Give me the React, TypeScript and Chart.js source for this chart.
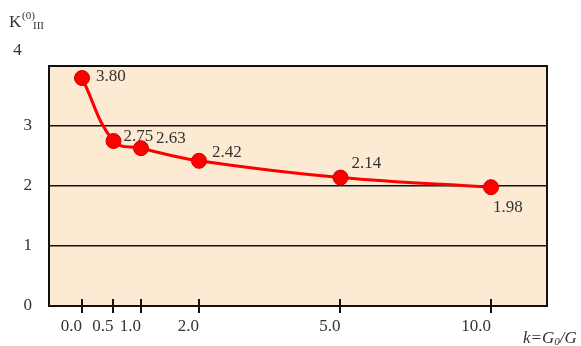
import { useEffect, useRef } from 'react';
import { Chart, registerables, LinearScale } from 'chart.js';

// Stiffness ratio k = G0/G and the coefficient K(0)_III at each ratio
const K_VALUES = [0, 0.5, 1, 2, 5, 10];
const COEFFICIENTS = [3.8, 2.75, 2.63, 2.42, 2.14, 1.98];
const Y_TICKS = [0, 1, 2, 3, 4];

// The k axis is stretched unevenly: each knot's place along the plot width
const AXIS_KNOTS = [0, 0.5, 1, 2, 5, 10];
const AXIS_FRACTIONS = [0.0663, 0.1295, 0.1847, 0.3012, 0.5853, 0.8876];

// Where each value label sits relative to its point
const LABEL_OFFSETS: [number, number][] = [
  [14, -1],
  [10, -4],
  [15, -10],
  [13, -8],
  [11, -14],
  [2, 20],
];

const SERIF = '"Liberation Serif", "Times New Roman", serif';
const TEXT = '#333333';
const PANEL = '#FCEBD2';

function interp(v: number, from: number[], to: number[]) {
  const n = from.length;
  let i = 0;
  while (i < n - 2 && v > from[i + 1]) i++;
  const a0 = from[i], a1 = from[i + 1];
  const b0 = to[i], b1 = to[i + 1];
  return b0 + ((v - a0) * (b1 - b0)) / (a1 - a0);
}

const warp = (k: number) => interp(k, AXIS_KNOTS, AXIS_FRACTIONS);
const unwarp = (f: number) => interp(f, AXIS_FRACTIONS, AXIS_KNOTS);

// Linear scale whose values are placed along the piecewise k mapping
class KnotScale extends LinearScale {
  static id = 'knots';
  static defaults = {};
  determineDataLimits() {
    this.min = 0;
    this.max = 1;
  }
  getPixelForValue(value: number) {
    if (value === null || value === undefined || isNaN(value)) return NaN;
    return super.getPixelForValue(warp(value));
  }
  getValueForPixel(pixel: number) {
    return unwarp(super.getValueForPixel(pixel));
  }
}

Chart.register(...registerables, KnotScale);

const framePlugin = {
  id: 'frame',
  beforeDraw(chart: any) {
    const { ctx, chartArea: a } = chart;
    ctx.save();
    ctx.fillStyle = PANEL;
    ctx.fillRect(a.left, a.top, a.right - a.left, a.bottom - a.top);
    ctx.restore();
  },
  beforeDatasetsDraw(chart: any) {
    const { ctx, chartArea: a } = chart;
    const xs = chart.scales.x;
    ctx.save();
    ctx.strokeStyle = '#111111';
    ctx.lineWidth = 2;
    ctx.strokeRect(a.left, a.top, a.right - a.left, a.bottom - a.top);
    // tick marks straddle the bottom edge
    ctx.beginPath();
    xs.ticks.forEach((_t: any, i: number) => {
      const x = Math.round(xs.getPixelForTick(i));
      ctx.moveTo(x, a.bottom - 7);
      ctx.lineTo(x, a.bottom + 7);
    });
    ctx.stroke();
    ctx.restore();
  },
  afterDatasetsDraw(chart: any) {
    const { ctx, chartArea: a } = chart;
    const meta = chart.getDatasetMeta(0);
    const ys = chart.scales.y;
    ctx.save();
    ctx.fillStyle = TEXT;
    ctx.font = `17px ${SERIF}`;
    ctx.textAlign = 'left';
    ctx.textBaseline = 'middle';
    meta.data.forEach((pt: any, i: number) => {
      const [dx, dy] = LABEL_OFFSETS[i];
      ctx.fillText(COEFFICIENTS[i].toFixed(2), pt.x + dx, pt.y + dy);
    });

    // top y tick, set up and to the left of the axis
    ctx.textAlign = 'center';
    ctx.fillText(String(Y_TICKS[Y_TICKS.length - 1]), a.left - 31.5, ys.getPixelForValue(Y_TICKS[Y_TICKS.length - 1]) - 15.5);

    // y axis title: K^(0)_III
    ctx.textAlign = 'left';
    ctx.textBaseline = 'alphabetic';
    ctx.font = `17px ${SERIF}`;
    ctx.fillText('K', 9, 27);
    ctx.font = `11px ${SERIF}`;
    ctx.fillText('(0)', 22, 19);
    ctx.fillText('III', 33, 29);

    // x axis title: k=G0/G
    let x = 523;
    ctx.font = `italic 17px ${SERIF}`;
    ctx.fillText('k=G', x, 343);
    x += ctx.measureText('k=G').width;
    ctx.font = `italic 11px ${SERIF}`;
    ctx.fillText('0', x, 345);
    x += ctx.measureText('0').width;
    ctx.font = `italic 17px ${SERIF}`;
    ctx.fillText('/G', x, 343);
    ctx.restore();
  },
};

export default function App() {
  const canvasRef = useRef<HTMLCanvasElement | null>(null);

  useEffect(() => {
    const canvas = canvasRef.current;
    if (!canvas) return;
    const points = K_VALUES.map((k, i) => ({ x: k, y: COEFFICIENTS[i] }));
    const chart = new Chart(canvas, {
      type: 'line',
      data: {
        datasets: [
          {
            data: points,
            borderColor: '#FF0000',
            borderWidth: 3,
            backgroundColor: '#FF0000',
            pointBackgroundColor: '#FF0000',
            pointBorderColor: '#CC0000',
            pointBorderWidth: 1,
            pointRadius: 7.5,
            tension: 0.4,
            fill: false,
          },
        ],
      },
      options: {
        responsive: false,
        animation: false,
        devicePixelRatio: 1,
        layout: { padding: { top: 66, right: 34, left: 0, bottom: 0 } },
        plugins: {
          legend: { display: false },
          tooltip: { enabled: false },
        },
        scales: {
          x: {
            type: 'knots' as any,
            position: 'bottom',
            grid: { display: false, drawTicks: false },
            border: { display: false },
            afterBuildTicks: (scale: any) => {
              scale.ticks = K_VALUES.map((v) => ({ value: v }));
            },
            afterFit: (scale: any) => {
              scale.height = 40;
            },
            ticks: {
              autoSkip: false,
              maxRotation: 0,
              align: 'end',
              padding: 10,
              color: TEXT,
              font: { family: SERIF, size: 17 },
              callback: (v: any) => Number(v).toFixed(1),
            },
          },
          y: {
            min: Y_TICKS[0],
            max: Y_TICKS[Y_TICKS.length - 1],
            afterBuildTicks: (scale: any) => {
              scale.ticks = Y_TICKS.map((v) => ({ value: v }));
            },
            afterFit: (scale: any) => {
              scale.width = 49;
            },
            grid: { color: '#111111', lineWidth: 1.5, drawTicks: false },
            border: { display: false },
            ticks: {
              padding: 17,
              color: TEXT,
              font: { family: SERIF, size: 17 },
              callback: (v: any) => (v === Y_TICKS[Y_TICKS.length - 1] ? '' : String(v)),
            },
          },
        },
      },
      plugins: [framePlugin],
    });
    return () => chart.destroy();
  }, []);

  return (
    <div style={{ position: 'absolute', left: 0, top: 0, width: 581, height: 346, background: '#ffffff' }}>
      <canvas ref={canvasRef} width={581} height={346} style={{ display: 'block' }} />
    </div>
  );
}
